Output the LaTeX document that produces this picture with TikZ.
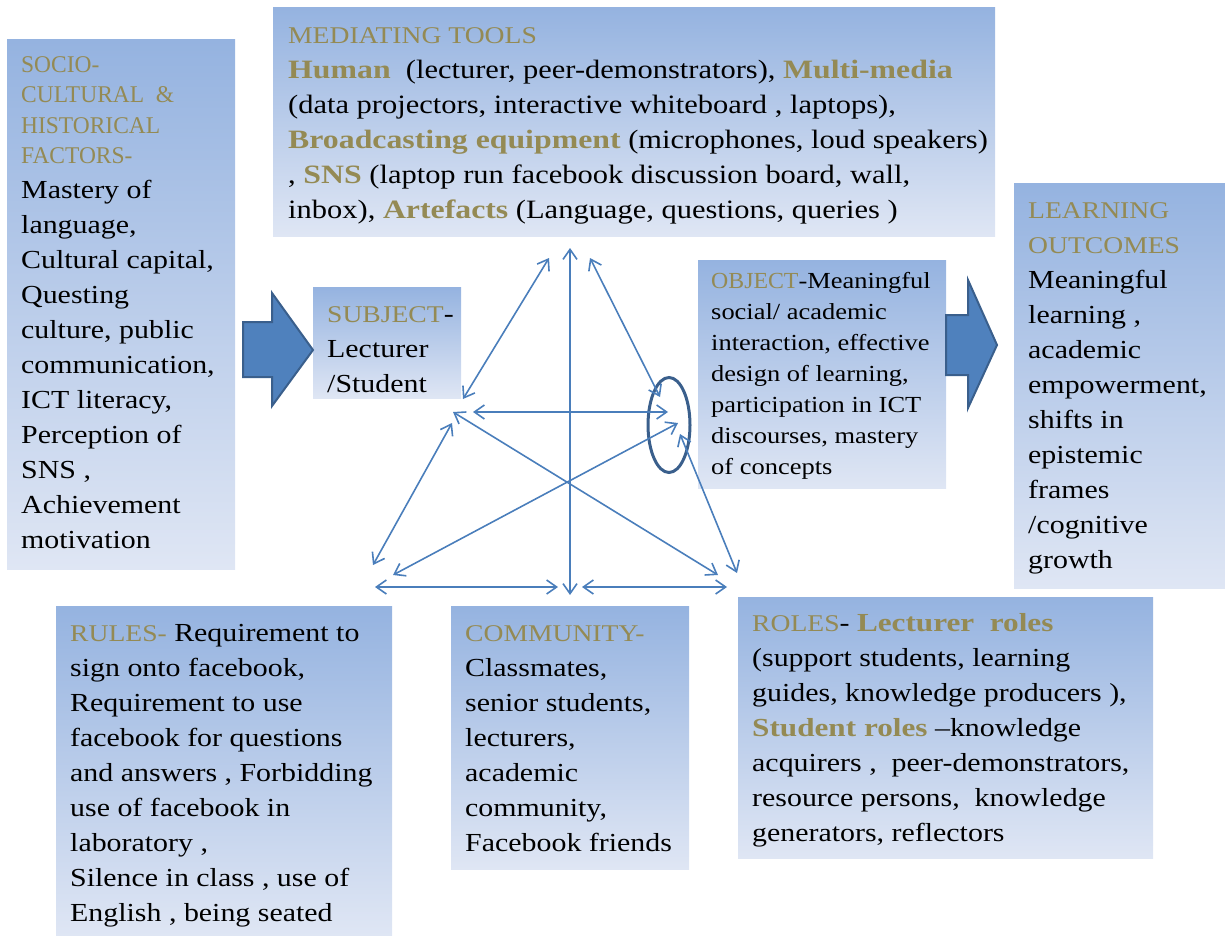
\documentclass[tikz,border=0pt]{standalone}
\usepackage{graphicx}
\usepackage{fontspec}
\setmainfont[FakeStretch=1.15,BoldFeatures={FakeStretch=1.2}]{Liberation Serif}
\usetikzlibrary{arrows.meta,shapes.geometric}
\definecolor{gold}{HTML}{948A54}
\definecolor{lineblue}{HTML}{4A7EBB}
\definecolor{arrowfill}{HTML}{4F81BD}
\definecolor{arrowedge}{HTML}{3A5F8C}
\definecolor{boxtop}{HTML}{95B3E0}
\definecolor{boxbot}{HTML}{DFE6F4}
\newcommand{\hd}[1]{{\color{gold}\fontsize{24}{35}\selectfont #1}}
\newcommand{\hdn}[1]{{\color{gold}\fontsize{24}{35}\selectfont\scalebox{0.85}[1]{#1}}}
\newcommand{\bd}[1]{{\color{gold}\bfseries #1}}
\begin{document}
\begin{tikzpicture}[x=1pt,y=-1pt,
  box/.style={rectangle, inner sep=0pt, outer sep=0pt, top color=boxtop, bottom color=boxbot, anchor=north west},
  txt/.style={anchor=north west, inner sep=0pt, align=left, font=\fontsize{26}{35}\selectfont},
  medtxt/.style={anchor=north west, inner sep=0pt, align=left, font=\fontsize{26.5}{35}\selectfont},
  smalltxt/.style={anchor=north west, inner sep=0pt, align=left, font=\fontsize{23}{31}\selectfont},
  conn/.style={draw=lineblue, line width=1.6pt, arrows={Straight Barb[length=10pt,width=14pt]-Straight Barb[length=10pt,width=14pt]}},
  blockarrow/.style={fill=arrowfill, draw=arrowedge, line width=2pt, line join=miter}
]
\useasboundingbox (0,0) rectangle (1225,936);

% boxes
\node[box, minimum width=228pt, minimum height=529pt] (socio) at (7,40) {};
\node[box, minimum width=722pt, minimum height=228pt] (tools) at (273,8) {};
\node[box, minimum width=148pt, minimum height=111pt] (subject) at (313,287) {};
\node[box, minimum width=248pt, minimum height=228pt] (object) at (698,260) {};
\node[box, minimum width=211pt, minimum height=404pt] (outcomes) at (1014,184) {};
\node[box, minimum width=336pt, minimum height=330pt] (rules) at (56,606) {};
\node[box, minimum width=238pt, minimum height=263pt] (community) at (451,606) {};
\node[box, minimum width=415pt, minimum height=261pt] (roles) at (738,597) {};

% texts
\node[txt] (sociot) at (21,47.5) {\strut\hdn{SOCIO-}\\[-4.5pt]
\hdn{CULTURAL~~\&}\\[-4.5pt]
\hdn{HISTORICAL}\\[-4.5pt]
\hdn{FACTORS-}\\
Mastery of\\ language,\\ Cultural capital,\\ Questing\\ culture, public\\ communication,\\ ICT literacy,\\ Perception of\\ SNS ,\\ Achievement\\ motivation};

\node[medtxt] (toolst) at (288,18.5) {\strut\hd{MEDIATING TOOLS}\\
\bd{Human}~~(lecturer, peer-demonstrators), \bd{Multi-media}\\
(data projectors, interactive whiteboard , laptops),\\
\bd{Broadcasting equipment} (microphones, loud speakers)\\
, \bd{SNS} (laptop run facebook discussion board, wall,\\
inbox), \bd{Artefacts} (Language, questions, queries )};

\node[txt] (subjectt) at (327,297.5) {\strut\hd{SUBJECT}-\\ Lecturer\\ /Student};

\node[smalltxt] (objectt) at (711,266.3) {\strut{\color{gold}\scalebox{0.9}[1]{OBJECT}}-Meaningful\\ social/ academic\\ interaction, effective\\ design of learning,\\ participation in ICT\\ discourses, mastery\\ of concepts};

\node[txt] (outcomest) at (1028,193.5) {\strut\hd{LEARNING}\\ \hd{OUTCOMES}\\ Meaningful\\ learning ,\\ academic\\ empowerment,\\ shifts in\\ epistemic\\ frames\\ /cognitive\\ growth};

\node[txt] (rulest) at (70,616.5) {\strut\hd{RULES-} Requirement to\\ sign onto facebook,\\ Requirement to use\\ facebook for questions\\ and answers , Forbidding\\ use of facebook in\\ laboratory ,\\ Silence in class , use of\\ English , being seated};

\node[txt] (communityt) at (465,616.5) {\strut\hd{COMMUNITY-}\\ Classmates,\\ senior students,\\ lecturers,\\ academic\\ community,\\ Facebook friends};

\node[txt] (rolest) at (752,606.5) {\strut\hd{ROLES}- \bd{Lecturer~~roles}\\ (support students, learning\\ guides, knowledge producers ),\\ \bd{Student roles} --knowledge\\ acquirers ,~~peer-demonstrators,\\ resource persons,~~knowledge\\ generators, reflectors};

% block arrows
\draw[blockarrow] (243,322) -- (272,322) -- (272,293) -- (313,350) -- (272,406) -- (272,377) -- (243,377) -- cycle;
\draw[blockarrow] (946,315) -- (968,315) -- (968,280) -- (997,345) -- (968,408) -- (968,375) -- (946,375) -- cycle;

% focus ellipse
\node[ellipse, draw=arrowedge, line width=3pt, minimum width=42pt, minimum height=95pt, inner sep=0pt] (focus) at (669,425) {};

% triangle connectors
\coordinate (t1) at (549,258); \coordinate (b1) at (463,399);
\coordinate (t2) at (570,248); \coordinate (b2) at (570,595);
\coordinate (t3) at (590,258); \coordinate (b3) at (660,397);
\coordinate (h1) at (473,412); \coordinate (h2) at (668,412);
\coordinate (l1) at (452,423); \coordinate (l2) at (373,565);
\coordinate (x1) at (453,412); \coordinate (x2) at (718,575);
\coordinate (x3) at (393,575); \coordinate (x4) at (678,423);
\coordinate (r1) at (680,434); \coordinate (r2) at (737,573);
\coordinate (g1) at (375,587); \coordinate (g2) at (558,587);
\coordinate (g3) at (582,587); \coordinate (g4) at (727,587);
\draw[conn] (t1) -- (b1);
\draw[conn] (t2) -- (b2);
\draw[conn] (t3) -- (b3);
\draw[conn] (h1) -- (h2);
\draw[conn] (l1) -- (l2);
\draw[conn] (x1) -- (x2);
\draw[conn] (x3) -- (x4);
\draw[conn] (r1) -- (r2);
\draw[conn] (g1) -- (g2);
\draw[conn] (g3) -- (g4);
\end{tikzpicture}
\end{document}
